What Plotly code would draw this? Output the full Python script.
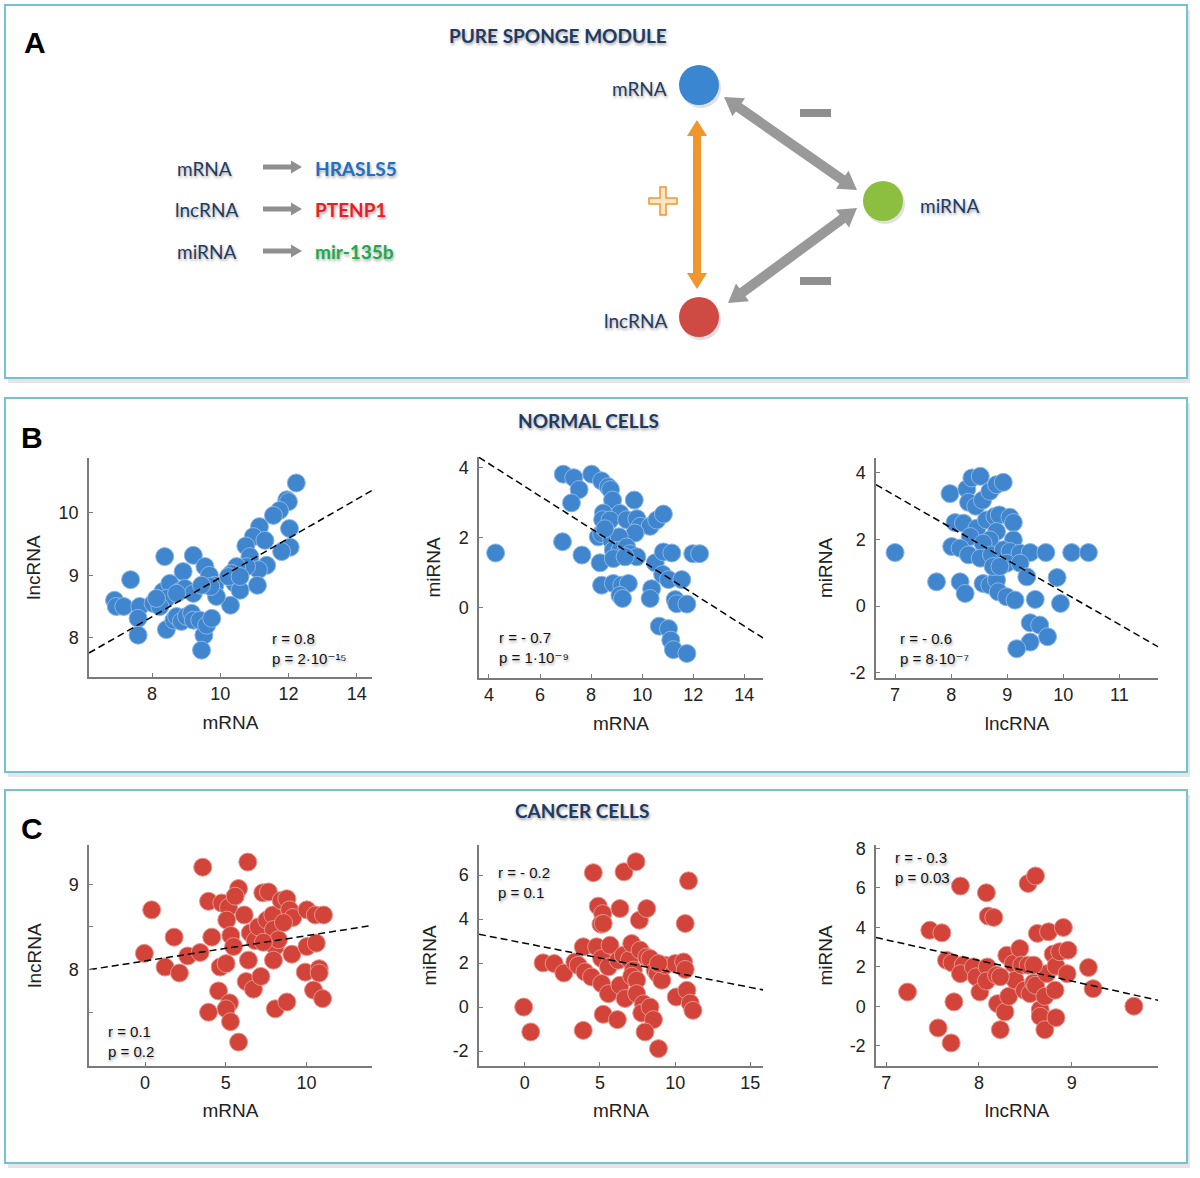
import math
import plotly.graph_objects as go

W, H = 1200, 1178

# ---------------- DATA ----------------
# B: normal cells
b1_mrna = [12.23,11.95,12.0,11.74,11.56,12.03,11.15,10.97,11.31,10.75,12.05,11.8,10.87,11.36,11.12,10.77,10.48,10.33,10.43,10.58,11.09,10.30,9.21,9.55,9.68,9.84,9.89,9.72,8.91,8.37,7.37,6.9,6.95,7.17,7.64,7.59,7.59,8.03,8.32,8.52,8.42,8.23,8.8,8.96,9.21,8.42,8.64,8.72,8.86,9.01,9.16,9.21,9.40,9.52,9.45,9.60,9.75,8.72,10.24,10.58,8.13,9.45]
b1_lncrna = [10.48,10.21,10.18,10.04,9.96,9.75,9.78,9.62,9.56,9.47,9.45,9.38,9.30,9.16,9.09,9.14,9.14,9.03,8.87,8.76,8.84,8.52,9.32,9.14,9.0,8.84,8.66,8.82,9.06,9.30,8.93,8.6,8.50,8.50,8.5,8.31,8.04,8.55,8.74,8.87,8.63,8.50,8.74,8.79,8.71,8.13,8.28,8.34,8.26,8.34,8.39,8.28,8.28,8.04,7.80,8.20,8.31,8.71,8.98,8.98,8.63,8.84]
b2_mrna = [4.26,6.91,7.32,7.53,7.23,6.88,7.64,8.02,8.41,8.67,8.76,8.84,9.69,8.48,8.45,9.13,8.74,9.39,9.79,9.92,10.31,10.57,10.83,9.72,8.28,8.41,8.80,9.10,8.87,9.13,9.39,9.52,9.79,8.35,8.87,10.51,10.83,11.16,11.98,12.25,10.80,11.03,11.55,8.41,8.87,9.20,9.46,9.13,9.23,10.37,10.31,11.29,11.35,11.75,10.67,11.03,11.12,11.22,11.75,8.54,9.33]
b2_mirna = [1.56,3.81,3.71,3.37,2.99,1.88,1.50,3.81,3.62,3.45,3.37,3.07,3.07,2.70,2.51,2.69,2.50,2.51,2.54,2.32,2.32,2.50,2.67,2.13,2.02,2.11,1.92,2.02,1.64,1.64,1.73,1.54,1.45,1.28,1.40,1.28,1.59,1.56,1.54,1.54,0.95,0.80,0.80,0.64,0.69,0.64,0.69,0.35,0.26,0.54,0.26,0.23,0.11,0.10,-0.53,-0.60,-0.93,-1.20,-1.31,2.25,1.45]
b3_lncrna = [7.0,7.74,7.98,8.28,8.37,8.52,8.31,8.44,8.56,8.69,8.81,8.93,8.07,8.22,8.46,8.63,8.78,8.86,9.05,9.11,8.81,8.34,8.69,8.57,9.11,8.01,8.16,8.31,8.52,8.72,8.93,9.05,9.23,9.41,9.69,10.15,10.45,8.99,9.23,9.35,9.89,8.16,8.25,8.57,8.69,8.81,8.84,8.99,9.14,9.50,9.95,9.41,9.58,9.72,9.41,9.17,8.75,8.87]
b3_mirna = [1.61,0.73,3.38,3.52,3.85,3.90,3.12,3.0,3.18,3.45,3.65,3.72,2.51,2.49,2.34,2.59,2.69,2.74,2.67,2.51,2.24,2.09,1.99,1.89,1.99,1.79,1.74,1.54,1.44,1.54,1.69,1.64,1.59,1.61,1.61,1.61,1.61,1.29,1.29,0.88,0.86,0.73,0.38,0.68,0.63,0.78,0.43,0.28,0.18,0.20,0.08,-0.50,-0.57,-0.92,-1.08,-1.28,1.19,1.19]

# C: cancer cells
c1_mrna = [-0.04,0.41,1.24,1.80,2.13,2.64,3.41,3.57,3.93,4.13,3.93,4.55,4.65,5.02,4.75,5.17,5.06,5.31,5.48,5.23,5.02,5.29,5.79,5.58,5.79,6.36,6.14,6.40,6.26,6.71,6.51,6.82,7.02,7.17,7.29,7.64,7.54,7.91,7.95,8.06,7.95,8.06,8.78,8.43,8.78,8.95,9.15,8.57,8.26,9.09,10.02,10.54,11.05,10.02,10.60,9.92,10.78,10.78,10.43,10.99,7.33]
c1_lncrna = [8.19,8.70,8.03,8.38,7.96,8.16,8.20,9.20,8.80,8.38,7.50,7.75,8.03,8.07,8.78,8.73,8.58,8.40,8.27,7.61,7.54,7.39,8.95,8.86,7.15,9.26,8.64,8.11,7.86,7.77,8.43,8.34,8.50,7.92,8.90,8.91,8.58,8.64,8.47,8.27,8.11,7.54,7.62,8.81,8.83,8.70,8.61,8.55,8.35,8.18,8.70,8.64,8.64,8.27,8.31,7.97,8.01,7.96,7.76,7.66,8.32]
c2_mrna = [-0.07,0.4,1.22,1.96,2.6,3.33,3.56,3.89,4.0,4.44,3.89,4.56,4.89,5.18,5.07,5.22,4.78,5.11,5.11,5.22,5.56,5.56,5.67,6.16,6.33,6.6,7.4,6.22,6.33,6.67,6.56,6.96,7.11,7.22,7.11,7.44,7.62,7.67,8.11,8.11,8.33,7.44,7.89,7.78,8.33,8.56,8.0,8.89,8.67,8.82,9.11,9.33,10.0,10.07,10.56,10.67,10.78,11.0,11.18,10.67,10.89,8.89]
c2_mirna = [0.0,-1.13,2.01,1.98,1.55,2.05,1.90,2.74,1.60,1.37,-1.06,6.11,4.59,4.25,3.77,3.80,2.74,2.21,1.07,-0.33,1.83,0.61,2.81,-0.57,4.48,6.15,6.61,2.13,0.99,0.39,2.36,2.16,2.89,1.68,1.40,1.22,3.95,2.59,4.48,2.28,2.21,0.61,0.15,-0.27,0.0,-0.57,-1.13,-1.89,1.68,1.53,1.22,1.90,1.98,0.46,2.05,1.71,0.76,0.18,-0.15,3.80,5.74,1.98]
c3_lncrna = [7.23,7.47,7.6,7.65,7.71,7.73,7.56,7.7,7.80,7.83,7.80,7.94,7.97,8.01,8.08,8.10,8.16,8.09,8.08,8.19,8.20,8.23,8.28,8.30,8.32,8.37,8.39,8.44,8.46,8.49,8.53,8.55,8.59,8.61,8.53,8.61,8.63,8.66,8.66,8.71,8.73,8.71,8.75,8.80,8.83,8.82,8.83,8.87,8.91,8.95,8.96,9.18,9.23,9.67,8.23,8.59]
c3_mirna = [0.72,3.85,3.72,2.33,2.20,0.22,-1.10,-1.86,6.09,2.08,1.65,1.99,1.49,0.72,5.75,4.57,4.50,1.99,1.28,1.57,0.13,-1.19,-0.29,2.58,0.50,2.16,1.32,2.92,2.08,0.81,2.08,0.64,1.18,1.06,6.22,6.60,3.69,-0.17,-0.51,0.50,1.65,-1.19,3.77,2.64,2.03,0.81,-0.58,2.76,3.99,1.65,2.84,1.96,0.89,0.0,1.49,2.08]

# regression lines (end points)
fit_b1_x = [6.15, 14.45]; fit_b1_y = [7.755, 10.36]
fit_b2_x = [3.61, 14.82]; fit_b2_y = [4.29, -0.91]
fit_b3_x = [6.66, 11.72]; fit_b3_y = [3.65, -1.25]
fit_c1_x = [-3.41, 14.15]; fit_c1_y = [8.0, 8.52]
fit_c2_x = [-3.04, 16.0]; fit_c2_y = [3.31, 0.76]
fit_c3_x = [6.89, 9.96]; fit_c3_y = [3.48, 0.27]

stats_r = ["r = 0.8", "r = - 0.7", "r = - 0.6", "r = 0.1", "r = - 0.2", "r = - 0.3"]
stats_p = ["p = 2·10⁻¹⁵", "p = 1·10⁻⁹", "p = 8·10⁻⁷", "p = 0.2", "p = 0.1", "p = 0.03"]

# ---------------- helpers ----------------
def X(p):
    return p / W

def Y(p):
    return 1 - p / H

NAVY = "#1f3b63"
SHADOW = "1px 2px 3px rgba(0,0,0,0.35)"
BLUE = "#3f86cf"
RED = "#d2443a"

fig = go.Figure()

panels = [
    dict(x=b1_mrna, y=b1_lncrna, fx=fit_b1_x, fy=fit_b1_y, col=BLUE, edge="#8ab6e6",
         dom=(89, 372, 458, 677), xr=[6.15, 14.45], yr=[7.37, 10.88],
         xt=[8, 10, 12, 14], yt=[8, 9, 10], ymin=None,
         xtitle="mRNA", ytitle="lncRNA", xso=12, yso=13, st=(270, 638)),
    dict(x=b2_mrna, y=b2_mirna, fx=fit_b2_x, fy=fit_b2_y, col=BLUE, edge="#8ab6e6",
         dom=(479, 763, 457, 678), xr=[3.61, 14.73], yr=[-2.01, 4.30],
         xt=[4, 6, 8, 10, 12, 14], yt=[0, 2, 4], ymin=None,
         xtitle="mRNA", ytitle="miRNA", xso=12, yso=13, st=(497, 637)),
    dict(x=b3_lncrna, y=b3_mirna, fx=fit_b3_x, fy=fit_b3_y, col=BLUE, edge="#8ab6e6",
         dom=(876, 1158, 458, 678), xr=[6.66, 11.69], yr=[-2.16, 4.45],
         xt=[7, 8, 9, 10, 11], yt=[-2, 0, 2, 4], ymin=None,
         xtitle="lncRNA", ytitle="miRNA", xso=12, yso=12, st=(898, 638)),
    dict(x=c1_mrna, y=c1_lncrna, fx=fit_c1_x, fy=fit_c1_y, col=RED, edge="#e8928a",
         dom=(89, 372, 845, 1066), xr=[-3.47, 14.05], yr=[6.87, 9.46],
         xt=[0, 5, 10], yt=[8, 9], ymin=[7.5, 8.5],
         xtitle="mRNA", ytitle="lncRNA", xso=11, yso=22, st=(106, 1031)),
    dict(x=c2_mrna, y=c2_mirna, fx=fit_c2_x, fy=fit_c2_y, col=RED, edge="#e8928a",
         dom=(479, 763, 845, 1066), xr=[-3.04, 15.84], yr=[-2.68, 7.37],
         xt=[0, 5, 10, 15], yt=[-2, 0, 2, 4, 6], ymin=None,
         xtitle="mRNA", ytitle="miRNA", xso=11, yso=11, st=(496, 872)),
    dict(x=c3_lncrna, y=c3_mirna, fx=fit_c3_x, fy=fit_c3_y, col=RED, edge="#e8928a",
         dom=(876, 1158, 845, 1066), xr=[6.89, 9.93], yr=[-3.03, 8.17],
         xt=[7, 8, 9], yt=[-2, 0, 2, 4, 6, 8], ymin=None,
         xtitle="lncRNA", ytitle="miRNA", xso=11, yso=12, st=(893, 857)),
]

annotations = []
shapes = []

# boxes (with soft shadow)
boxes = [(5, 5, 1187, 378), (5, 398, 1187, 772), (5, 790, 1187, 1163)]
for (x0, y0, x1, y1) in boxes:
    shapes.append(dict(type="rect", xref="paper", yref="paper", layer="below",
                       x0=X(x0 + 3), x1=X(x1 + 3), y0=Y(y1 + 5), y1=Y(y0 + 5),
                       fillcolor="rgba(0,0,0,0.10)", line=dict(width=0)))
    shapes.append(dict(type="rect", xref="paper", yref="paper", layer="below",
                       x0=X(x0), x1=X(x1), y0=Y(y1), y1=Y(y0),
                       fillcolor="white", line=dict(color="#72c4d2", width=2)))

def fmt(v):
    return str(int(v)) if float(v).is_integer() else str(v)

tickfont = dict(family="Liberation Sans, Arial, sans-serif", size=18, color="#222")
afont = dict(family="Liberation Sans, Arial, sans-serif", size=19, color="#222")
for i, p in enumerate(panels, start=1):
    xa = "x" if i == 1 else f"x{i}"
    ya = "y" if i == 1 else f"y{i}"
    fig.add_trace(go.Scatter(x=p["x"], y=p["y"], mode="markers", xaxis=xa, yaxis=ya,
                             marker=dict(size=18, color=p["col"],
                                         line=dict(color=p["edge"], width=1)),
                             hoverinfo="x+y"))
    fig.add_trace(go.Scatter(x=p["fx"], y=p["fy"], mode="lines", xaxis=xa, yaxis=ya,
                             line=dict(color="black", width=1.5, dash="7px,4px"),
                             hoverinfo="skip"))
    x0, x1, y0, y1 = p["dom"]
    common = dict(showline=True, linecolor="#7a7a7a", linewidth=1.5, ticks="inside",
                  ticklen=4, tickcolor="#7a7a7a", showgrid=False, zeroline=False,
                  tickfont=tickfont, fixedrange=True, automargin=False)
    xkey = "xaxis" if i == 1 else f"xaxis{i}"
    ykey = "yaxis" if i == 1 else f"yaxis{i}"
    yax = dict(domain=[Y(y1), Y(y0)], range=p["yr"], anchor=xa, tickmode="array",
               tickvals=p["yt"], ticktext=[fmt(v) for v in p["yt"]],
               ticklabelstandoff=5,
               title=dict(text=p["ytitle"], font=afont, standoff=p["yso"]), **common)
    if p["ymin"]:
        yax["minor"] = dict(tickmode="array", tickvals=p["ymin"], ticks="inside",
                            ticklen=4, tickcolor="#7a7a7a")
    fig.update_layout(**{
        xkey: dict(domain=[X(x0), X(x1)], range=p["xr"], anchor=ya, tickmode="array",
                   tickvals=p["xt"], ticktext=[fmt(v) for v in p["xt"]],
                   title=dict(text=p["xtitle"], font=afont, standoff=p["xso"]), **common),
        ykey: yax,
    })
    sfont = dict(family="Liberation Sans, DejaVu Sans, sans-serif", size=15, color="#111",
                 shadow=SHADOW)
    sx, sy = p["st"]
    annotations.append(dict(text=stats_r[i - 1], x=X(sx), y=Y(sy), xref="paper", yref="paper",
                            showarrow=False, font=sfont, xanchor="left", yanchor="middle"))
    annotations.append(dict(text=stats_p[i - 1], x=X(sx), y=Y(sy + 20), xref="paper",
                            yref="paper", showarrow=False, font=sfont, xanchor="left",
                            yanchor="middle"))

# ---------------- panel labels & titles ----------------
for lab, (lx, ly) in {"A": (35, 42), "B": (32, 437), "C": (32, 828)}.items():
    annotations.append(dict(text=f"<b>{lab}</b>", x=X(lx), y=Y(ly), xref="paper", yref="paper",
                            showarrow=False, xanchor="center", yanchor="middle",
                            font=dict(family="Liberation Sans, Arial", size=30, color="black")))

tfont = dict(family="Lato, Open Sans, sans-serif", size=19, color=NAVY, shadow=SHADOW)
for t, (tx, ty) in {"PURE SPONGE MODULE": (558, 36), "NORMAL CELLS": (588, 420),
                    "CANCER CELLS": (582, 810)}.items():
    annotations.append(dict(text=f"<b>{t}</b>", x=X(tx), y=Y(ty), xref="paper", yref="paper",
                            showarrow=False, xanchor="center", yanchor="middle", font=tfont))

# ---------------- panel A diagram ----------------
def arrow_path(x1, y1, x2, y2, sw, hw, hl, double=True):
    dx, dy = x2 - x1, y2 - y1
    L = math.hypot(dx, dy)
    ux, uy = dx / L, dy / L
    nx, ny = -uy, ux
    b2 = (x2 - ux * hl, y2 - uy * hl)
    pts = []
    if double:
        b1 = (x1 + ux * hl, y1 + uy * hl)
        pts.append((x1, y1))
        pts.append((b1[0] + nx * hw / 2, b1[1] + ny * hw / 2))
        pts.append((b1[0] + nx * sw / 2, b1[1] + ny * sw / 2))
    else:
        b1 = (x1, y1)
        pts.append((b1[0] + nx * sw / 2, b1[1] + ny * sw / 2))
    pts.append((b2[0] + nx * sw / 2, b2[1] + ny * sw / 2))
    pts.append((b2[0] + nx * hw / 2, b2[1] + ny * hw / 2))
    pts.append((x2, y2))
    pts.append((b2[0] - nx * hw / 2, b2[1] - ny * hw / 2))
    pts.append((b2[0] - nx * sw / 2, b2[1] - ny * sw / 2))
    pts.append((b1[0] - nx * sw / 2, b1[1] - ny * sw / 2))
    if double:
        pts.append((b1[0] - nx * hw / 2, b1[1] - ny * hw / 2))
    return "M " + " L ".join(f"{X(a):.5f},{Y(b):.5f}" for a, b in pts) + " Z"

def add_path(path, fill, line_col=None, lw=0):
    shapes.append(dict(type="path", xref="paper", yref="paper", path=path,
                       fillcolor=fill, line=dict(color=line_col or fill, width=lw)))

GRAY = "#999999"
for yy in (167, 209, 251):
    add_path(arrow_path(263, yy, 302, yy, 5, 13, 11, double=False), "#8f8f8f")

add_path(arrow_path(697, 120, 697, 289, 8, 20, 16), "#f0962a")
add_path(arrow_path(724, 97, 857, 190, 10, 22, 18), GRAY)
add_path(arrow_path(857, 208, 728, 303, 10, 22, 18), GRAY)

for cy in (113, 281):
    shapes.append(dict(type="rect", xref="paper", yref="paper",
                       x0=X(800), x1=X(831), y0=Y(cy + 4), y1=Y(cy - 4),
                       fillcolor="#8f8f8f", line=dict(width=0)))

cx, cy, a, t = 663, 201, 14, 3
plus = [(cx - t, cy - a), (cx + t, cy - a), (cx + t, cy - t), (cx + a, cy - t), (cx + a, cy + t),
        (cx + t, cy + t), (cx + t, cy + a), (cx - t, cy + a), (cx - t, cy + t), (cx - a, cy + t),
        (cx - a, cy - t), (cx - t, cy - t)]
add_path("M " + " L ".join(f"{X(u):.5f},{Y(v):.5f}" for u, v in plus) + " Z",
         "#fde6c8", "#f0962a", 1.5)

for (ncx, ncy, col) in [(699, 85, "#3a86d0"), (883, 201, "#8cbf3f"), (699, 317, "#d04a44")]:
    r = 20
    shapes.append(dict(type="circle", xref="paper", yref="paper",
                       x0=X(ncx - r + 2), x1=X(ncx + r + 2), y0=Y(ncy + r + 3), y1=Y(ncy - r + 3),
                       fillcolor="rgba(0,0,0,0.12)", line=dict(width=0)))
    shapes.append(dict(type="circle", xref="paper", yref="paper",
                       x0=X(ncx - r), x1=X(ncx + r), y0=Y(ncy + r), y1=Y(ncy - r),
                       fillcolor=col, line=dict(width=0)))

lfont = dict(family="Lato, Open Sans, sans-serif", size=19, color=NAVY, shadow=SHADOW)
for txt, tx, ty in [("mRNA", 175, 168), ("lncRNA", 173, 209), ("miRNA", 175, 251)]:
    annotations.append(dict(text=txt, x=X(tx), y=Y(ty), xref="paper", yref="paper",
                            showarrow=False, xanchor="left", yanchor="middle", font=lfont))
for txt, col, ty in [("HRASLS5", "#1f6fc4", 168), ("PTENP1", "#ee1c25", 209),
                     ("mir-135b", "#1eaa4a", 251)]:
    annotations.append(dict(text=f"<b>{txt}</b>", x=X(313), y=Y(ty), xref="paper", yref="paper",
                            showarrow=False, xanchor="left", yanchor="middle",
                            font=dict(family="Lato, Open Sans, sans-serif", size=19, color=col,
                                      shadow=SHADOW)))
for txt, tx, ty, anc in [("mRNA", 669, 88, "right"), ("lncRNA", 669, 320, "right"),
                         ("miRNA", 918, 205, "left")]:
    annotations.append(dict(text=txt, x=X(tx), y=Y(ty), xref="paper", yref="paper",
                            showarrow=False, xanchor=anc, yanchor="middle", font=lfont))

fig.update_layout(width=W, height=H, margin=dict(l=0, r=0, t=0, b=0),
                  paper_bgcolor="white", plot_bgcolor="rgba(0,0,0,0)", showlegend=False,
                  annotations=annotations, shapes=shapes)

fig.write_html("out.html", config={"displayModeBar": False},
               post_script="document.body.style.margin='0px';"
                           "document.body.style.overflow='hidden';")
